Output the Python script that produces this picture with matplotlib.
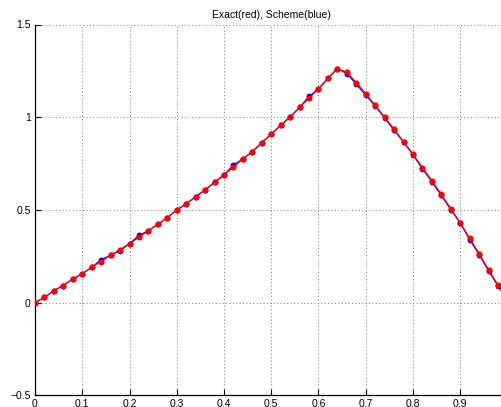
import matplotlib
matplotlib.use("Agg")
import matplotlib.pyplot as plt
import numpy as np

x = [0.00, 0.02, 0.04, 0.06, 0.08, 0.10, 0.12, 0.14, 0.16, 0.18,
     0.20, 0.22, 0.24, 0.26, 0.28, 0.30, 0.32, 0.34, 0.36, 0.38,
     0.40, 0.42, 0.44, 0.46, 0.48, 0.50, 0.52, 0.54, 0.56, 0.58,
     0.60, 0.62, 0.64, 0.66, 0.68, 0.70, 0.72, 0.74, 0.76, 0.78,
     0.80, 0.82, 0.84, 0.86, 0.88, 0.90, 0.92, 0.94, 0.96, 0.98, 1.00]

exact = [0.000, 0.028, 0.065, 0.092, 0.127, 0.156, 0.190, 0.221, 0.255, 0.286,
         0.318, 0.352, 0.388, 0.422, 0.458, 0.500, 0.532, 0.572, 0.607, 0.649,
         0.688, 0.731, 0.775, 0.814, 0.863, 0.908, 0.956, 1.001, 1.053, 1.102,
         1.152, 1.210, 1.262, 1.242, 1.187, 1.127, 1.064, 1.000, 0.935, 0.868,
         0.800, 0.728, 0.658, 0.584, 0.507, 0.429, 0.347, 0.264, 0.178, 0.095, 0.011]

scheme = [0.000, 0.028, 0.065, 0.092, 0.127, 0.156, 0.190, 0.232, 0.255, 0.280,
          0.318, 0.362, 0.388, 0.422, 0.458, 0.500, 0.532, 0.572, 0.607, 0.649,
          0.688, 0.742, 0.775, 0.814, 0.863, 0.908, 0.956, 1.001, 1.053, 1.112,
          1.152, 1.210, 1.262, 1.235, 1.178, 1.120, 1.060, 0.996, 0.930, 0.866,
          0.798, 0.722, 0.652, 0.578, 0.502, 0.429, 0.340, 0.258, 0.172, 0.090, 0.008]

title = "Exact(red), Scheme(blue)"
xticks = [0, 0.1, 0.2, 0.3, 0.4, 0.5, 0.6, 0.7, 0.8, 0.9, 1.0]
xticklabels = ["0", "0.1", "0.2", "0.3", "0.4", "0.5", "0.6", "0.7", "0.8", "0.9", "1"]
yticks = [-0.5, 0, 0.5, 1, 1.5]
yticklabels = ["\u22120.5", "0", "0.5", "1", "1.5"]

plt.rcParams['font.family'] = ['Liberation Sans', 'DejaVu Sans']

W, H = 502, 407
fig = plt.figure(figsize=(W / 100, H / 100), dpi=100)
left_px, right_px, top_px, bottom_px = 35.0, 507.5, 24.5, 395.3
ax = fig.add_axes([left_px / W, (H - bottom_px) / H,
                   (right_px - left_px) / W, (bottom_px - top_px) / H])

ax.plot(x, scheme, color=(0, 0, 1), lw=0.9, marker='o', ms=4.2,
        markeredgewidth=0, zorder=3)
ax.plot(x, exact, color=(1, 0, 0), lw=0.9, marker='o', ms=4.4,
        markeredgewidth=0, zorder=4)

ax.set_xlim(0, 1)
ax.set_ylim(-0.5, 1.5)
ax.set_xticks(xticks)
ax.set_xticklabels(xticklabels)
ax.set_yticks(yticks)
ax.set_yticklabels(yticklabels)
ax.tick_params(direction='in', length=4, width=0.8, labelsize=7.5, pad=3, colors='black')
ax.grid(True, linestyle=(0, (1, 2.5)), color='0.45', lw=0.7)
ax.spines['top'].set_visible(False)
ax.spines['right'].set_visible(False)
ax.spines['left'].set_linewidth(0.9)
ax.spines['bottom'].set_linewidth(0.9)
ax.set_title(title, fontsize=7.5, pad=5)

fig.savefig("out.png", dpi=100)
